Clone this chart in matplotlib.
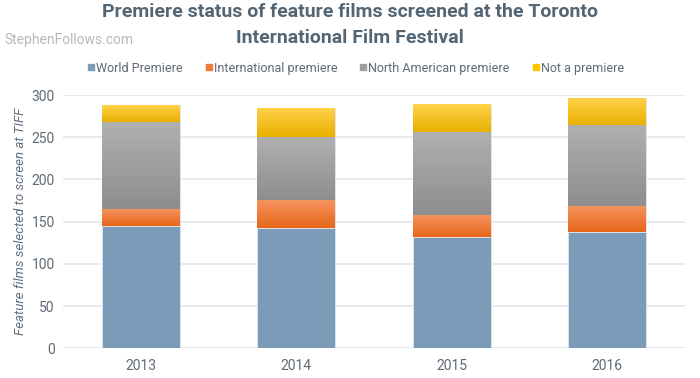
import matplotlib
matplotlib.use("Agg")
import matplotlib.pyplot as plt
import numpy as np
from matplotlib.colors import LinearSegmentedColormap
from matplotlib.lines import Line2D

years = ["2013", "2014", "2015", "2016"]
series_names = ["World Premiere", "International premiere", "North American premiere", "Not a premiere"]
world_premiere = [145, 143, 132, 138]
international_premiere = [20, 33, 26, 30]
north_american_premiere = [103, 74, 98, 97]
not_a_premiere = [20, 35, 33, 31]
yticks = [0, 50, 100, 150, 200, 250, 300]

series = [world_premiere, international_premiere, north_american_premiere, not_a_premiere]
# (top colour, bottom colour) for gradients
grad = [("#7a9cb8", "#7a9cb8"),
        ("#f4945e", "#e7661a"),
        ("#b0b0b0", "#8e8e8e"),
        ("#ffd24a", "#e8b000")]
legend_colors = ["#7a9cb8", "#ee7a33", "#a0a0a0", "#ffc400"]

plt.rcParams['font.family'] = ['Roboto', 'DejaVu Sans']

fig = plt.figure(figsize=(7, 3.78), dpi=100)
ax = fig.add_axes([0.09, 0.0786, 0.8886, 0.67])

x = np.arange(len(years))
bottom = np.zeros(len(years))
width = 0.5
for vals, (ctop, cbot) in zip(series, grad):
    bars = ax.bar(x, vals, width, bottom=bottom, color=ctop, edgecolor="#dfe6ee",
                  linewidth=0.6, zorder=3)
    if ctop != cbot:
        cmap = LinearSegmentedColormap.from_list("g", [cbot, ctop])
        for b in bars:
            bx, by = b.get_x(), b.get_y()
            bw, bh = b.get_width(), b.get_height()
            img = ax.imshow(np.linspace(0, 1, 100).reshape(-1, 1), cmap=cmap,
                            origin="lower", aspect="auto",
                            extent=[bx, bx + bw, by, by + bh], zorder=3.5)
            img.set_clip_path(b)
    bottom += np.array(vals)

ax.set_xlim(-0.5, 3.5)
ax.set_ylim(0, 300)
ax.set_yticks(yticks)
ax.set_xticks(x)
ax.set_xticklabels(years)
ax.yaxis.grid(True, color="#e3e6ee", linewidth=1.2, zorder=0)
ax.set_axisbelow(True)
for s in ax.spines.values():
    s.set_visible(False)
ax.tick_params(axis="both", length=0, labelsize=10, colors="#606a74", pad=6)
ax.tick_params(axis="x", pad=8)
ax.set_ylabel("Feature films selected to screen at TIFF", style="italic",
              fontsize=9.5, color="#5f6f7f")
ax.yaxis.set_label_coords(-0.058, 0.5)

fig.text(0.5, 0.968, "Premiere status of feature films screened at the Toronto",
         ha="center", va="center", fontsize=14, fontweight="bold", color="#546674")
fig.text(0.5, 0.900, "International Film Festival",
         ha="center", va="center", fontsize=14, fontweight="bold", color="#546674")
fig.text(0.007, 0.893, "StephenFollows.com", ha="left", va="center",
         fontsize=10, color="#b8b8b8")

handles = [Line2D([], [], marker="s", linestyle="none", markersize=5,
                  markerfacecolor=c, markeredgecolor=c) for c in legend_colors]
fig.legend(handles, series_names, loc="center", bbox_to_anchor=(0.507, 0.82),
           ncol=4, frameon=False, fontsize=9, labelcolor="#606a74",
           handletextpad=0.0, columnspacing=1.7, handlelength=0.8)

fig.savefig("out.png", dpi=100)
